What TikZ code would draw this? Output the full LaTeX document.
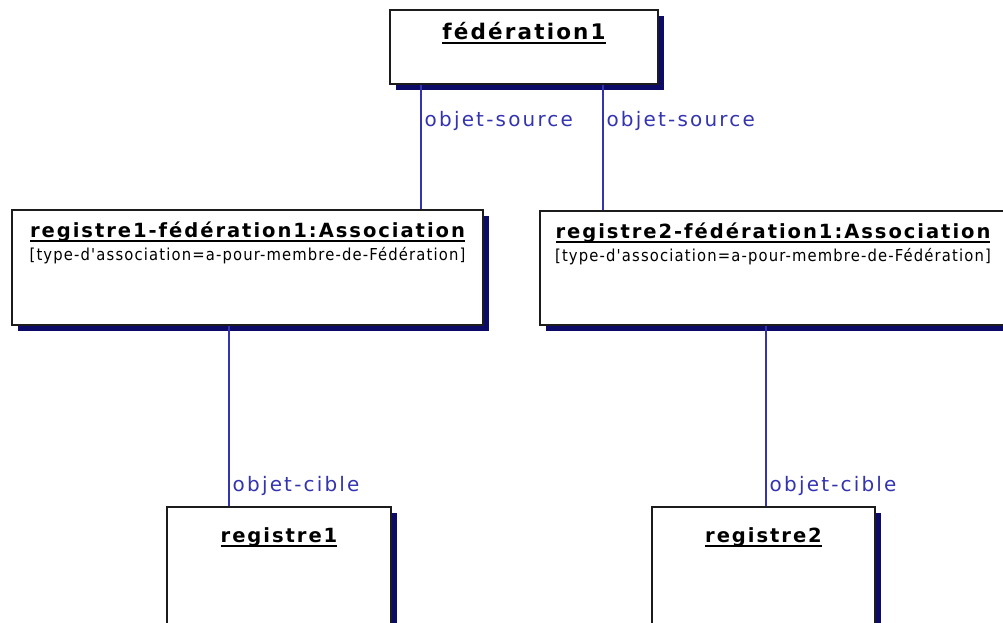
\documentclass[tikz,border=0pt]{standalone}
\usepackage{fontspec}
\setmainfont{DejaVu Sans}
\newfontfamily\objfont[LetterSpace=10]{DejaVu Sans}
\newfontfamily\rolefont[LetterSpace=11]{DejaVu Sans}
\newfontfamily\tagfont[LetterSpace=7]{DejaVu Sans Condensed}
\usetikzlibrary{shadows}
\definecolor{navy}{HTML}{0C0C68}
\definecolor{linkblue}{HTML}{3434B0}
\definecolor{edge}{HTML}{1C1C1C}

% underlined object name, thick rule a little below the baseline
\newcommand{\objname}[1]{\setbox0=\hbox{#1}\leavevmode\rlap{\rule[-3.3pt]{\wd0}{1.2pt}}\box0}

\tikzset{
    objbox/.style={draw=edge, line width=1.3pt, fill=white, inner sep=0,
        drop shadow={shadow xshift=0.15cm, shadow yshift=-0.15cm, fill=navy, opacity=1}},
    objtitle/.style={anchor=base, inner sep=0, font=\objfont\bfseries\fontsize{13.9}{16}\selectfont},
    objtag/.style={anchor=base, inner sep=0, font=\tagfont\fontsize{11.7}{14}\selectfont},
    link/.style={linkblue, line width=1.2pt},
    role/.style={linkblue, anchor=west, inner sep=2pt, font=\rolefont\fontsize{14.2}{17}\selectfont},
}

\begin{document}
\begin{tikzpicture}
    \useasboundingbox (0, 0) rectangle (25.075, -15.55);
    \clip (0, 0) rectangle (25.075, -15.55);

    % objects
    \node[objbox, minimum width=6.7cm, minimum height=1.85cm] (fed) at (13.1, -1.175) {};
    \node[objtitle, font=\objfont\bfseries\fontsize{15.3}{18}\selectfont] (fedname) at ([yshift=-0.75cm]fed.north) {\objname{fédération1}};

    \node[objbox, minimum width=11.775cm, minimum height=2.875cm] (assocA) at (6.1875, -6.6875) {};
    \node[objtitle] (assocAname) at ([yshift=-0.7cm]assocA.north) {\objname{registre1-fédération1:Association}};
    \node[objtag] (assocAtag) at ([yshift=-1.28cm]assocA.north) {[type-d'association=a-pour-membre-de-Fédération]};

    \node[objbox, minimum width=11.65cm, minimum height=2.85cm] (assocB) at (19.325, -6.7) {};
    \node[objtitle] (assocBname) at ([yshift=-0.7cm]assocB.north) {\objname{registre2-fédération1:Association}};
    \node[objtag] (assocBtag) at ([yshift=-1.28cm]assocB.north) {[type-d'association=a-pour-membre-de-Fédération]};

    \node[objbox, minimum width=5.6cm, minimum height=3.375cm] (regA) at (6.975, -14.3625) {};
    \node[objtitle] (regAname) at ([yshift=-0.9cm]regA.north) {\objname{registre1}};

    \node[objbox, minimum width=5.575cm, minimum height=3.375cm] (regB) at (19.0875, -14.3625) {};
    \node[objtitle] (regBname) at ([yshift=-0.9cm]regB.north) {\objname{registre2}};

    % links
    \coordinate (srcA) at ([xshift=0.8cm]fed.south west);
    \coordinate (srcB) at ([xshift=-1.4cm]fed.south east);
    \coordinate (tgtA) at ([xshift=5.45cm]assocA.south west);
    \coordinate (tgtB) at ([xshift=5.675cm]assocB.south west);

    \draw[link] (srcA) -- (srcA |- assocA.north) node[role, pos=0.29] {objet-source};
    \draw[link] (srcB) -- (srcB |- assocB.north) node[role, pos=0.29] {objet-source};
    \draw[link] (tgtA) -- (tgtA |- regA.north) node[role, pos=0.89] {objet-cible};
    \draw[link] (tgtB) -- (tgtB |- regB.north) node[role, pos=0.89] {objet-cible};
\end{tikzpicture}
\end{document}
